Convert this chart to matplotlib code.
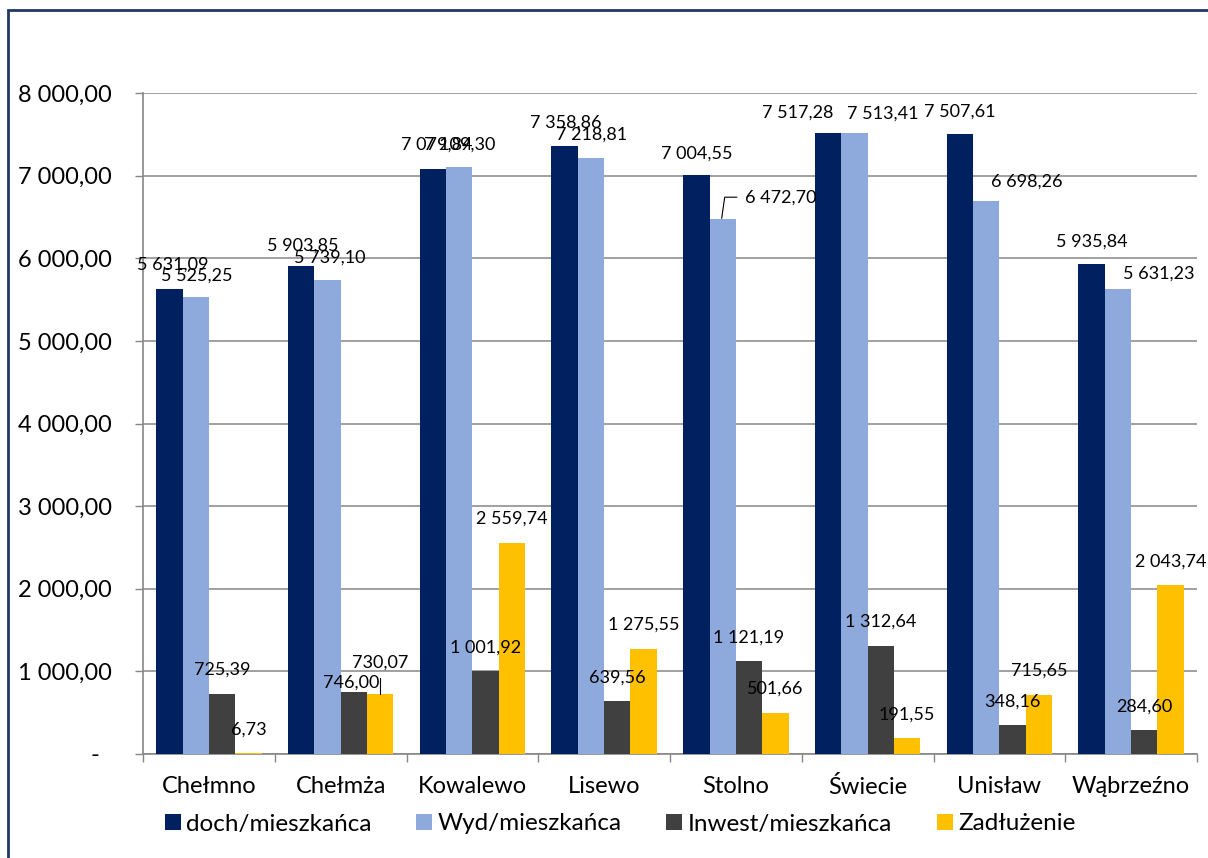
import matplotlib
matplotlib.use("Agg")
import matplotlib.pyplot as plt
from matplotlib.patches import Patch, Rectangle
import numpy as np

plt.rcParams['font.family'] = ['Lato', 'DejaVu Sans']

# Dane
gminy = ['Chełmno', 'Chełmża', 'Kowalewo', 'Lisewo', 'Stolno', 'Świecie', 'Unisław', 'Wąbrzeźno']
serie = ['doch/mieszkańca', 'Wyd/mieszkańca', 'Inwest/mieszkańca', 'Zadłużenie']
doch = [5631.09, 5903.85, 7079.84, 7358.86, 7004.55, 7517.28, 7507.61, 5935.84]
wyd = [5525.25, 5739.10, 7109.30, 7218.81, 6472.70, 7513.41, 6698.26, 5631.23]
inwest = [725.39, 746.00, 1001.92, 639.56, 1121.19, 1312.64, 348.16, 284.60]
zadluzenie = [6.73, 730.07, 2559.74, 1275.55, 501.66, 191.55, 715.65, 2043.74]
y_ticks = [0, 1000, 2000, 3000, 4000, 5000, 6000, 7000, 8000]

kolory = ['#002060', '#8EA9DB', '#404040', '#FFC000']

# przesunięcia etykiet (piksele), domyślnie (0, 24) nad słupkiem
przesuniecia = {
    (0, 0): (3, 24), (1, 0): (1, 22),
    (0, 1): (2, 21), (1, 1): (2, 22), (2, 1): (-3, 10), (3, 1): (0, 31),
    (0, 2): (4, 24), (1, 2): (0, 22),
    (0, 3): (1, 23), (1, 3): (1, 23),
    (0, 4): (0, 22), (1, 4): (58, 22),
    (0, 5): (-30, 20), (1, 5): (28, 20),
    (0, 6): (0, 22), (1, 6): (41, 19),
    (0, 7): (0, 22), (1, 7): (41, 15),
}


def fmt(v):
    return f"{v:,.2f}".replace(",", " ").replace(".", ",")


W, H = 1208, 858
fig = plt.figure(figsize=(W / 100, H / 100), dpi=100)
ax = fig.add_axes([143 / W, 1 - 754 / H, (1197 - 143) / W, (754 - 93) / H])

x = np.arange(len(gminy))
szer = 0.2
dane = [doch, wyd, inwest, zadluzenie]
for i, (vals, kol) in enumerate(zip(dane, kolory)):
    ax.bar(x + (i - 1.5) * szer, vals, szer, color=kol, zorder=3)

ax.set_xlim(-0.5, len(gminy) - 0.5)
ax.set_ylim(0, 8000)
ax.autoscale(False)

# etykiety danych
for i, vals in enumerate(dane):
    for j, v in enumerate(vals):
        dx, dy = przesuniecia.get((i, j), (0, 24))
        ax.annotate(fmt(v), xy=(x[j] + (i - 1.5) * szer, v), xytext=(dx, dy),
                    textcoords='offset pixels', ha='center', va='center',
                    fontsize=13, color='black', zorder=5)


def linia(i, j, pts):
    v = dane[i][j]
    base = ax.transData.transform((x[j] + (i - 1.5) * szer, v))
    xy = ax.transData.inverted().transform(base + np.array(pts, dtype=float))
    ax.plot(xy[:, 0], xy[:, 1], color='black', lw=0.8, zorder=5, clip_on=False)


linia(1, 4, [(-1, 1), (2, 22), (14, 22)])
linia(3, 1, [(0, 0), (0, 16)])

# osie
ax.set_yticks(y_ticks)
ax.set_yticklabels(['-  '] + [fmt(v) for v in y_ticks[1:]], fontsize=17)
ax.set_xticks(x)
ax.set_xticklabels(gminy, fontsize=17)
ax.set_xticks(np.arange(-0.5, len(gminy)), minor=True)
ax.tick_params(axis='x', which='major', length=0, pad=16)
ax.tick_params(axis='x', which='minor', length=6, width=1, color='#868686')
ax.tick_params(axis='y', length=6, width=1, color='#868686', pad=16.5)

for s in ['top', 'right']:
    ax.spines[s].set_visible(False)
for s in ['left', 'bottom']:
    ax.spines[s].set_color('#868686')
    ax.spines[s].set_linewidth(1.2)
ax.grid(axis='y', color='#868686', lw=1.1, zorder=0)
ax.set_axisbelow(True)

uchwyty = [Patch(facecolor=k, edgecolor='none', label=s) for k, s in zip(kolory, serie)]
fig.legend(handles=uchwyty, loc='center', bbox_to_anchor=(620 / W, 1 - 824 / H),
           ncol=4, frameon=False, fontsize=17.5, handlelength=0.66, handleheight=0.66,
           handletextpad=0.21, columnspacing=1.85)

# ramka
fig.patches.append(Rectangle((8 / W, -0.1), 1.2, 1.1 - 10 / H, transform=fig.transFigure,
                             fill=False, edgecolor='#203864', lw=2))

plt.savefig('out.png', dpi=100)
